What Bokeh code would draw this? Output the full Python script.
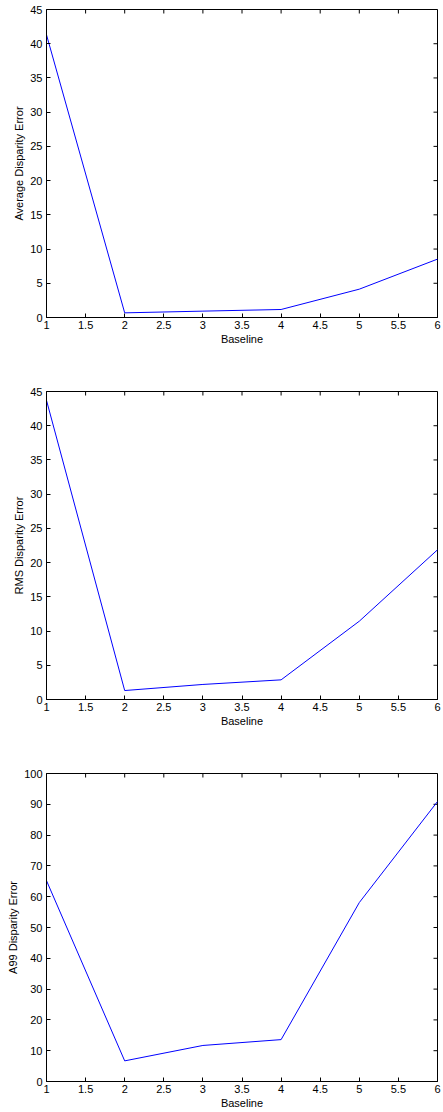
import math
from bokeh.plotting import figure
from bokeh.layouts import column
from bokeh.models import Range1d, FixedTicker, CustomJSTickFormatter
from bokeh.embed import file_html
from bokeh.resources import INLINE

# ---- data ----
baseline = [1, 2, 3, 4, 5, 6]
avg_err = [41.3, 0.68, 0.93, 1.17, 4.14, 8.53]
rms_err = [43.7, 1.31, 2.2, 2.87, 11.44, 21.87]
a99_err = [65.2, 6.7, 11.7, 13.6, 58.1, 90.9]

x_ticks = [1, 1.5, 2, 2.5, 3, 3.5, 4, 4.5, 5, 5.5, 6]
y_ticks_45 = [0, 5, 10, 15, 20, 25, 30, 35, 40, 45]
y_ticks_100 = [0, 10, 20, 30, 40, 50, 60, 70, 80, 90, 100]

x_label = "Baseline"
y_labels = ["Average Disparity Error", "RMS Disparity Error", "A99 Disparity Error"]

FONT = "Liberation Sans"
FS = "11px"


def style_axis(ax):
    ax.major_tick_in = 4
    ax.major_tick_out = 0
    ax.minor_tick_line_color = None
    ax.axis_line_color = "black"
    ax.major_tick_line_color = "black"
    ax.major_label_text_font = FONT
    ax.major_label_text_font_size = FS
    ax.major_label_text_color = "black"
    ax.axis_label_text_font = FONT
    ax.axis_label_text_font_size = FS
    ax.axis_label_text_font_style = "normal"
    ax.axis_label_text_color = "black"


def make_panel(yvals, ylabel, yticks, ymax, top, bottom):
    p = figure(frame_width=391, frame_height=308,
               min_border_left=46, min_border_right=4,
               min_border_top=top, min_border_bottom=bottom,
               x_range=Range1d(1, 6), y_range=Range1d(0, ymax),
               output_backend="svg", toolbar_location=None,
               x_axis_label=x_label, y_axis_label=ylabel)
    p.grid.visible = False
    p.outline_line_color = "black"
    p.outline_line_width = 1
    p.background_fill_color = "white"
    p.border_fill_color = "white"
    fmt = CustomJSTickFormatter(code="return String(Math.round(tick*10)/10);")
    p.xaxis.ticker = FixedTicker(ticks=x_ticks)
    p.yaxis.ticker = FixedTicker(ticks=yticks)
    p.xaxis.formatter = fmt
    p.yaxis.formatter = fmt
    for ax in p.xaxis + p.yaxis:
        style_axis(ax)
    p.xaxis.major_label_standoff = 3
    p.xaxis.axis_label_standoff = 1
    p.yaxis.major_label_standoff = 4
    p.yaxis.axis_label_standoff = 2

    # inward tick marks on the top and right edges of the box
    p.ray(x=x_ticks, y=[ymax] * len(x_ticks), length=4, length_units="screen",
          angle=-math.pi / 2, line_color="black", line_width=1)
    p.ray(x=[6] * len(yticks), y=yticks, length=4, length_units="screen",
          angle=math.pi, line_color="black", line_width=1)

    p.line(baseline, yvals, line_color="#0000ff", line_width=1)
    return p


p1 = make_panel(avg_err, y_labels[0], y_ticks_45, 45, 9, 36)
p2 = make_panel(rms_err, y_labels[1], y_ticks_45, 45, 38, 36)
p3 = make_panel(a99_err, y_labels[2], y_ticks_100, 100, 38, 30)

layout = column(p1, p2, p3, spacing=0)
open("out.html", "w").write(file_html(layout, INLINE))
